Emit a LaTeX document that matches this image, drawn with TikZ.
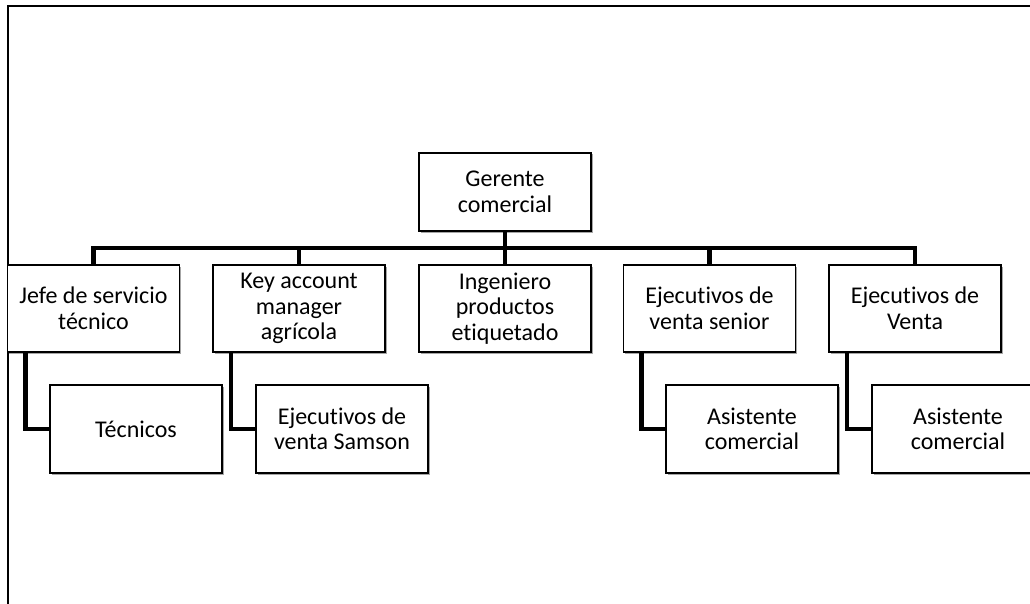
\documentclass[tikz,border=0pt]{standalone}
\usepackage{fontspec}
\setmainfont[Ligatures=NoCommon]{Carlito}
\usetikzlibrary{shadows}
\tikzset{
  orgbox/.style={draw=black, line width=1.2pt, fill=white, align=center,
    minimum width=172pt, minimum height=87pt, inner sep=2pt,
    font=\fontsize{24}{25.5}\selectfont,
    drop shadow={shadow xshift=1.5pt, shadow yshift=-1.5pt, opacity=0.35, fill=black}},
  link/.style={line width=4.5pt, draw=black, line join=miter},
  frame/.style={line width=2.5pt, draw=black}
}
\begin{document}
\begin{tikzpicture}[x=1pt, y=-1pt]
  \useasboundingbox (0,0) rectangle (1030,604);
  \clip (0,0) rectangle (1030,604);
  % outer frame
  \draw[frame] (8,6) rectangle (1050,620);

  % top level
  \node[orgbox, minimum height=78pt] (ger) at (505,192) {Gerente\\comercial};

  % second level
  \node[orgbox] (jefe) at (93.5,308.5) {Jefe de servicio\\técnico};
  \node[orgbox] (key)  at (299,308.5)  {Key account\\manager\\agrícola};
  \node[orgbox] (ing)  at (505,308.5)  {Ingeniero\\productos\\etiquetado};
  \node[orgbox] (sen)  at (709.5,308.5) {Ejecutivos de\\venta senior};
  \node[orgbox] (ven)  at (915,308.5)  {Ejecutivos de\\Venta};

  % third level
  \node[orgbox, minimum height=88pt] (tec) at (136,429) {Técnicos};
  \node[orgbox, minimum height=88pt] (sam) at (342,429) {Ejecutivos de\\venta Samson};
  \node[orgbox, minimum height=88pt] (as1) at (752,429) {Asistente\\comercial};
  \node[orgbox, minimum height=88pt] (as2) at (958,429) {Asistente\\comercial};

  % connectors
  \coordinate (bar) at (505,248);
  \draw[link] (ger.south) -- (bar);
  \draw[link] (jefe.north) |- (bar) -| (ven.north);
  \draw[link] (key.north) -- (key.north |- bar);
  \draw[link] (ing.north) -- (ing.north |- bar);
  \draw[link] (sen.north) -- (sen.north |- bar);

  \draw[link] ([xshift=18.5pt]jefe.south west) |- (tec.west);
  \draw[link] ([xshift=18.5pt]key.south west) |- (sam.west);
  \draw[link] ([xshift=18.5pt]sen.south west) |- (as1.west);
  \draw[link] ([xshift=18.5pt]ven.south west) |- (as2.west);
\end{tikzpicture}
\end{document}
